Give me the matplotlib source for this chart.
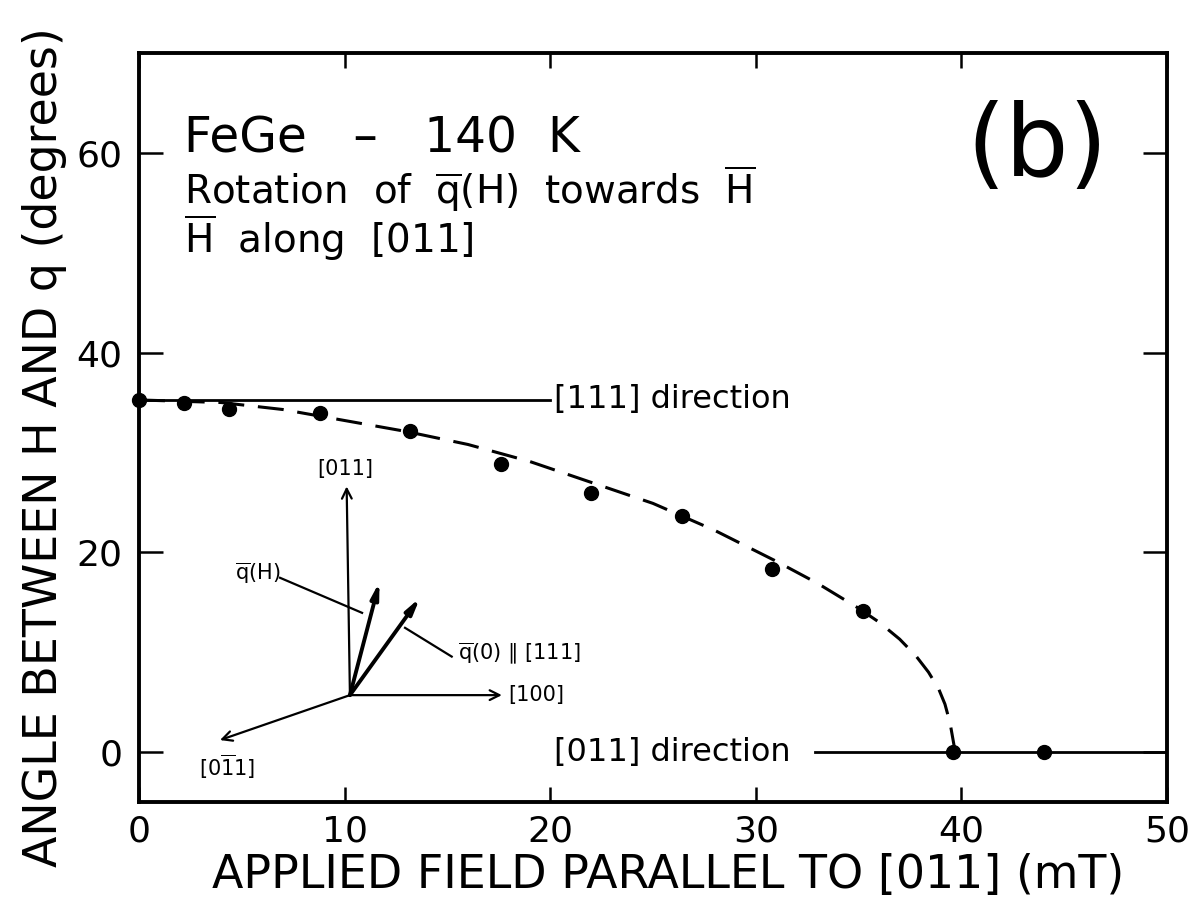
import matplotlib
matplotlib.use("Agg")
import matplotlib.pyplot as plt

# measured rotation angle of q(H) vs applied field
field_mT = [0, 2.2, 4.4, 8.8, 13.2, 17.6, 22.0, 26.4, 30.8, 35.2, 39.6, 44.0]
angle_deg = [35.3, 35.0, 34.4, 34.0, 32.1, 28.8, 25.9, 23.6, 18.3, 14.1, 0.0, 0.0]

# guide curve drawn through the data
curve_field = [0, 4, 7, 10, 13, 16, 19, 22, 25, 28, 31, 33, 35, 36.0, 37.0, 37.8,
               38.4, 38.9, 39.2, 39.45, 39.7]
curve_angle = [35.26, 35.0, 34.3, 33.2, 32.1, 30.8, 29.1, 27.0, 24.9, 22.2, 19.1, 16.9,
               14.4, 13.0, 11.3, 9.6, 8.0, 6.3, 4.8, 2.9, 0.0]

angle_111 = 35.26
angle_011 = 0.0

xticks = [0, 10, 20, 30, 40, 50]
yticks = [0, 20, 40, 60]

fig = plt.figure(figsize=(11.93, 9.06), dpi=100)
ax = fig.add_axes([0.1165, 0.1148, 0.8617, 0.8267])

# reference directions
ax.plot([0, 20.0], [angle_111, angle_111], color='k', lw=2)
ax.plot([32.9, 50], [angle_011, angle_011], color='k', lw=2)
ax.text(20.2, angle_111, '[111] direction', fontsize=23, va='center', ha='left')
ax.text(20.2, angle_011, '[011] direction', fontsize=23, va='center', ha='left')

ax.plot(curve_field, curve_angle, color='k', lw=2.2, linestyle=(0, (8.5, 4.5)))
ax.plot(field_mT, angle_deg, 'o', color='k', ms=10, clip_on=False, zorder=5)

# text block
ax.text(2.2, 60.0, 'FeGe   \u2013   140  K', fontsize=35, ha='left', va='baseline')
ax.text(2.2, 54.9, r'Rotation  of  $\overline{\mathrm{q}}$(H)  towards  $\overline{\mathrm{H}}$',
        fontsize=28, ha='left', va='baseline')
ax.text(2.2, 50.0, r'$\overline{\mathrm{H}}$  along  [011]', fontsize=28, ha='left', va='baseline')
ax.text(43.7, 60.4, '(b)', fontsize=72, ha='center', va='center')

# crystal axes sketch
o = (10.26, 5.7)
thin = dict(arrowstyle='->,head_length=0.7,head_width=0.35', lw=1.6, color='k',
            shrinkA=0, shrinkB=0)
thick = dict(arrowstyle='-|>,head_length=0.9,head_width=0.22', lw=2.8, color='k',
             shrinkA=0, shrinkB=0)
ax.annotate('', xy=(10.1, 26.6), xytext=o, arrowprops=thin)
ax.annotate('', xy=(17.65, 5.7), xytext=o, arrowprops=thin)
ax.annotate('', xy=(3.94, 1.2), xytext=o, arrowprops=thin)
ax.annotate('', xy=(11.7, 17.05), xytext=o, arrowprops=thick)
ax.annotate('', xy=(13.67, 15.45), xytext=o, arrowprops=thick)
ax.plot([6.86, 10.85], [17.45, 13.94], color='k', lw=1.6)
ax.plot([12.94, 15.21], [12.44, 9.56], color='k', lw=1.6)

ax.text(10.05, 28.3, '[011]', fontsize=15, ha='center', va='center')
ax.text(17.95, 5.7, '[100]', fontsize=15, ha='left', va='center')
ax.text(4.28, -1.5, r'[0$\overline{1}$1]', fontsize=15, ha='center', va='center')
ax.text(6.86, 17.9, r'$\overline{\mathrm{q}}$(H)', fontsize=15, ha='right', va='center')
ax.text(15.5, 9.9, '$\\overline{\\mathrm{q}}$(0) \u2225 [111]', fontsize=15,
        ha='left', va='center')

ax.set_xlim(0, 50)
ax.set_ylim(-5, 70)
ax.set_xticks(xticks)
ax.set_yticks(yticks)
ax.tick_params(axis='x', direction='in', top=True, length=11, width=1.8,
               labelsize=26, pad=9)
ax.tick_params(axis='y', direction='in', right=True, length=17, width=1.8,
               labelsize=26, pad=12)
for s in ax.spines.values():
    s.set_linewidth(2.8)

ax.set_xlabel('APPLIED FIELD PARALLEL TO [011] (mT)', fontsize=33)
ax.set_ylabel('ANGLE BETWEEN H AND q (degrees)', fontsize=33)
ax.xaxis.set_label_coords(0.515, -0.068)
ax.yaxis.set_label_coords(-0.07, 0.474)

fig.savefig('out.png', dpi=100)
